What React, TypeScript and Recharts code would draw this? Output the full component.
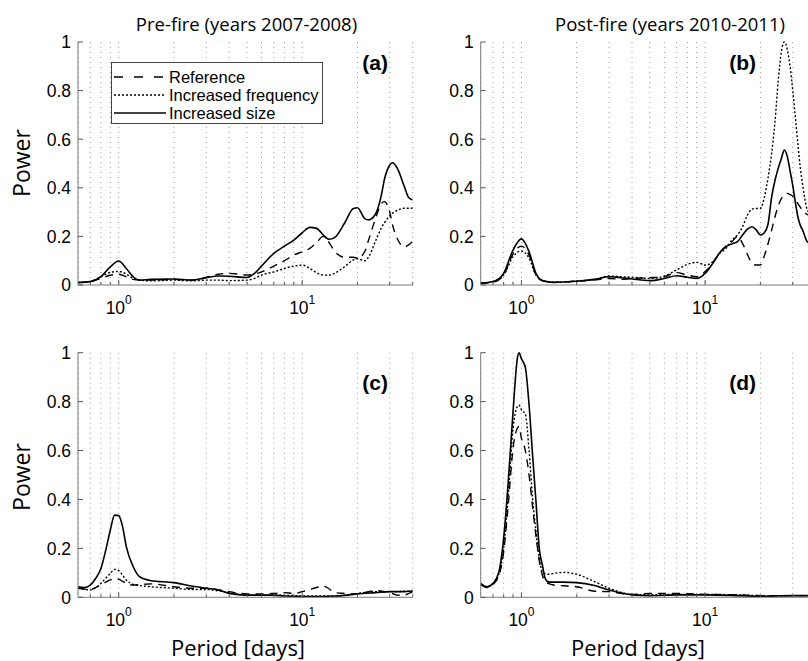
import React from 'react';
import { LineChart, Line, XAxis, YAxis, CartesianGrid, Legend } from 'recharts';

// ---------- data ----------
const X_TICKS = [0.7, 0.8, 0.9, 1, 2, 3, 4, 5, 6, 7, 8, 9, 10, 20, 30, 40];
const X_MAJOR = [1, 10];
const Y_TICKS = [0, 0.2, 0.4, 0.6, 0.8, 1];
const Y_TICK_LABELS = ['0', '0.2', '0.4', '0.6', '0.8', '1'];
const SERIES_NAMES = ['Reference', 'Increased frequency', 'Increased size'];
const PANEL_TITLES = ['Pre-fire (years 2007-2008)', 'Post-fire (years 2010-2011)'];
const PANEL_TAGS = ['(a)', '(b)', '(c)', '(d)'];
const Y_LABEL = 'Power';
const X_LABEL = 'Period [days]';

// panel (a)
const PERIODS_A = [0.6, 0.7, 0.8, 0.9, 1.0, 1.1, 1.2, 1.3, 1.5, 2, 2.5, 3, 3.5, 4, 5, 5.5, 6, 7, 8, 9, 10, 11, 12, 13, 14, 15, 17, 19, 20, 22, 23, 25, 27, 28, 30, 31, 33, 36, 38, 40];
const REF_A = [0.01, 0.014, 0.027, 0.04, 0.044, 0.034, 0.023, 0.02, 0.02, 0.023, 0.02, 0.032, 0.044, 0.048, 0.041, 0.045, 0.054, 0.078, 0.1, 0.123, 0.137, 0.151, 0.175, 0.2, 0.175, 0.14, 0.114, 0.114, 0.11, 0.14, 0.185, 0.27, 0.335, 0.343, 0.3, 0.25, 0.19, 0.157, 0.165, 0.18];
const FREQ_A = [0.01, 0.014, 0.034, 0.052, 0.056, 0.045, 0.027, 0.02, 0.017, 0.02, 0.017, 0.02, 0.02, 0.018, 0.02, 0.027, 0.041, 0.054, 0.068, 0.078, 0.082, 0.068, 0.05, 0.041, 0.04, 0.048, 0.075, 0.103, 0.108, 0.1, 0.115, 0.178, 0.235, 0.255, 0.285, 0.295, 0.307, 0.316, 0.316, 0.316];
const SIZE_A = [0.01, 0.014, 0.034, 0.075, 0.099, 0.068, 0.034, 0.02, 0.023, 0.025, 0.02, 0.03, 0.037, 0.036, 0.031, 0.048, 0.078, 0.13, 0.16, 0.185, 0.215, 0.237, 0.233, 0.206, 0.188, 0.195, 0.254, 0.315, 0.318, 0.272, 0.268, 0.29, 0.37, 0.432, 0.494, 0.503, 0.48, 0.405, 0.36, 0.35];

// panel (b)
const PERIODS_B = [0.6, 0.7, 0.8, 0.9, 1.0, 1.1, 1.2, 1.3, 1.5, 2, 2.5, 3, 3.5, 4, 5, 6, 7, 8, 9, 10, 11, 12, 13, 14, 15, 16, 17, 18, 19, 20, 21, 22, 23, 24, 25, 26, 27, 28, 29, 30, 31, 32, 33, 34, 36, 38, 40];
const REF_B = [0.007, 0.011, 0.041, 0.128, 0.16, 0.123, 0.041, 0.018, 0.011, 0.016, 0.021, 0.027, 0.023, 0.027, 0.03, 0.034, 0.051, 0.041, 0.034, 0.055, 0.089, 0.133, 0.16, 0.178, 0.2, 0.17, 0.125, 0.09, 0.082, 0.082, 0.12, 0.17, 0.225, 0.28, 0.325, 0.355, 0.372, 0.377, 0.372, 0.366, 0.355, 0.335, 0.32, 0.305, 0.29, 0.28, 0.27];
const FREQ_B = [0.007, 0.014, 0.041, 0.117, 0.14, 0.11, 0.041, 0.018, 0.011, 0.016, 0.023, 0.037, 0.034, 0.032, 0.027, 0.037, 0.062, 0.085, 0.093, 0.082, 0.096, 0.13, 0.151, 0.185, 0.206, 0.24, 0.288, 0.312, 0.315, 0.315, 0.36, 0.44, 0.54, 0.67, 0.84, 0.96, 1.0, 0.97, 0.9, 0.8, 0.69, 0.58, 0.48, 0.41, 0.31, 0.29, 0.28];
const SIZE_B = [0.007, 0.014, 0.048, 0.144, 0.19, 0.137, 0.048, 0.018, 0.011, 0.016, 0.023, 0.034, 0.03, 0.025, 0.018, 0.027, 0.038, 0.032, 0.027, 0.048, 0.089, 0.133, 0.158, 0.169, 0.178, 0.206, 0.23, 0.24, 0.226, 0.206, 0.215, 0.25, 0.36, 0.43, 0.48, 0.52, 0.555, 0.53, 0.47, 0.41, 0.34, 0.28, 0.245, 0.225, 0.178, 0.17, 0.16];

// panel (c)
const PERIODS_C = [0.6, 0.65, 0.7, 0.75, 0.8, 0.85, 0.9, 0.95, 1.0, 1.05, 1.1, 1.2, 1.3, 1.5, 2, 2.5, 3, 3.5, 4, 5, 6, 7, 8, 9, 10, 11, 12, 13, 14, 15, 17, 20, 25, 30, 33, 35, 40];
const REF_C = [0.037, 0.034, 0.032, 0.04, 0.05, 0.062, 0.071, 0.075, 0.074, 0.065, 0.057, 0.05, 0.052, 0.055, 0.043, 0.037, 0.037, 0.03, 0.023, 0.014, 0.014, 0.016, 0.019, 0.016, 0.023, 0.032, 0.04, 0.046, 0.035, 0.019, 0.016, 0.014, 0.027, 0.019, 0.009, 0.008, 0.023];
const FREQ_C = [0.037, 0.033, 0.03, 0.04, 0.057, 0.078, 0.098, 0.114, 0.109, 0.09, 0.071, 0.053, 0.048, 0.043, 0.037, 0.032, 0.032, 0.026, 0.019, 0.009, 0.009, 0.009, 0.008, 0.007, 0.005, 0.005, 0.005, 0.005, 0.005, 0.005, 0.008, 0.016, 0.023, 0.023, 0.023, 0.024, 0.026];
const SIZE_C = [0.043, 0.04, 0.05, 0.078, 0.118, 0.193, 0.275, 0.336, 0.334, 0.289, 0.207, 0.125, 0.084, 0.068, 0.06, 0.046, 0.037, 0.03, 0.016, 0.009, 0.009, 0.009, 0.005, 0.004, 0.003, 0.003, 0.003, 0.003, 0.004, 0.005, 0.008, 0.014, 0.019, 0.023, 0.023, 0.023, 0.026];

// panel (d)
const PERIODS_D = [0.6, 0.65, 0.7, 0.75, 0.8, 0.85, 0.9, 0.95, 0.97, 1.0, 1.05, 1.1, 1.15, 1.2, 1.25, 1.3, 1.35, 1.4, 1.5, 1.7, 2, 2.5, 3, 4, 5, 7, 10, 15, 20, 30, 40];
const REF_D = [0.053, 0.04, 0.053, 0.084, 0.186, 0.391, 0.609, 0.691, 0.698, 0.65, 0.6, 0.5, 0.37, 0.25, 0.15, 0.09, 0.065, 0.057, 0.05, 0.047, 0.043, 0.025, 0.023, 0.012, 0.016, 0.016, 0.012, 0.01, 0.007, 0.007, 0.007];
const FREQ_D = [0.053, 0.043, 0.057, 0.091, 0.2, 0.432, 0.691, 0.78, 0.786, 0.766, 0.75, 0.6, 0.405, 0.268, 0.159, 0.105, 0.096, 0.094, 0.098, 0.102, 0.094, 0.064, 0.037, 0.012, 0.01, 0.012, 0.012, 0.01, 0.007, 0.007, 0.007];
const SIZE_D = [0.057, 0.043, 0.057, 0.098, 0.241, 0.486, 0.759, 0.977, 1.0, 0.975, 0.94, 0.787, 0.58, 0.39, 0.2, 0.132, 0.075, 0.063, 0.062, 0.062, 0.06, 0.048, 0.03, 0.01, 0.007, 0.01, 0.01, 0.007, 0.004, 0.007, 0.007];

const build = (p: number[], r: number[], f: number[], s: number[]) =>
  p.map((v, i) => ({ p: v, ref: r[i], freq: f[i], size: s[i] }));

const DATA_A = build(PERIODS_A, REF_A, FREQ_A, SIZE_A);
const DATA_B = build(PERIODS_B, REF_B, FREQ_B, SIZE_B);
const DATA_C = build(PERIODS_C, REF_C, FREQ_C, SIZE_C);
const DATA_D = build(PERIODS_D, REF_D, FREQ_D, SIZE_D);

// ---------- styles ----------
const AXIS_FONT = '"Liberation Sans", Arial, Helvetica, sans-serif';
const LABEL_FONT = '"Open Sans", "Noto Sans", sans-serif';
const FRAME = '#7a7a7a';
const TICK_COLOR = '#555';
const GRID = '#9a9a9a';
const DASH_REF = '8 6';
const DASH_FREQ = '2 2';
const TICK_FONT_SIZE = 17.5;

// ---------- ticks ----------
const LeftTick = (props: any) => {
  const { x, y, payload } = props;
  const idx = Y_TICKS.indexOf(payload.value);
  return (
    <g>
      <line x1={x} y1={y} x2={x + 5} y2={y} stroke={TICK_COLOR} strokeWidth={1} />
      <text x={x - 7} y={y} dy="0.36em" textAnchor="end" fontSize={TICK_FONT_SIZE} fontFamily={AXIS_FONT} fill="#000">
        {idx >= 0 ? Y_TICK_LABELS[idx] : payload.value}
      </text>
    </g>
  );
};

const RightTick = (props: any) => {
  const { x, y } = props;
  return <line x1={x} y1={y} x2={x - 5} y2={y} stroke={TICK_COLOR} strokeWidth={1} />;
};

const BottomTick = (props: any) => {
  const { x, y, payload } = props;
  const v = payload.value;
  const major = X_MAJOR.includes(v);
  const exp = Math.round(Math.log10(v));
  return (
    <g>
      <line x1={x} y1={y} x2={x} y2={y - (major ? 5 : 3)} stroke={TICK_COLOR} strokeWidth={1} />
      {major && (
        <text x={x} y={y + 29} textAnchor="middle" fontSize={TICK_FONT_SIZE} fontFamily={AXIS_FONT} fill="#000">
          <tspan>10</tspan>
          <tspan dy={-10} fontSize={12}>{exp}</tspan>
        </text>
      )}
    </g>
  );
};

const TopTick = (props: any) => {
  const { x, y, payload } = props;
  const major = X_MAJOR.includes(payload.value);
  return <line x1={x} y1={y} x2={x} y2={y + (major ? 5 : 3)} stroke={TICK_COLOR} strokeWidth={1} />;
};

// ---------- legend ----------
const LEGEND_DASH = ['9 11', '2 2', undefined];
const renderLegend = () => (
  <div
    style={{
      position: 'relative',
      width: 212,
      height: 62,
      boxSizing: 'border-box',
      border: '1px solid #444',
      background: '#fff',
    }}
  >
    {SERIES_NAMES.map((name, i) => (
      <div
        key={name}
        style={{
          position: 'absolute',
          left: 1,
          top: 4.7 + i * 18.3,
          height: 18,
          display: 'flex',
          alignItems: 'center',
          whiteSpace: 'nowrap',
        }}
      >
        <svg width={54} height={18} style={{ display: 'block' }}>
          <line x1={1} y1={9} x2={53} y2={9} stroke="#000" strokeWidth={1.3} strokeDasharray={LEGEND_DASH[i]} />
        </svg>
        <span style={{ fontFamily: AXIS_FONT, fontSize: 16.5, color: '#000', marginLeft: 2, lineHeight: '18px' }}>{name}</span>
      </div>
    ))}
  </div>
);

// ---------- panel ----------
type PanelProps = {
  left: number;
  top: number;
  width: number;
  height: number;
  marginTop: number;
  yAxisWidth: number;
  data: any[];
  legend?: boolean;
};

const Panel = ({ left, top, width, height, marginTop, yAxisWidth, data, legend }: PanelProps) => (
  <div style={{ position: 'absolute', left, top }}>
    <LineChart width={width} height={height} data={data} margin={{ top: marginTop, right: 7.3, bottom: 0, left: 0 }}>
      <CartesianGrid horizontal={false} stroke={GRID} strokeDasharray="1 4" />
      <XAxis
        dataKey="p"
        type="number"
        scale="log"
        domain={[0.6, 40]}
        allowDataOverflow
        ticks={X_TICKS}
        interval={0}
        height={35}
        tickSize={0}
        tickMargin={0}
        tick={<BottomTick />}
        axisLine={{ stroke: FRAME }}
      />
      <XAxis
        xAxisId="top"
        orientation="top"
        dataKey="p"
        type="number"
        scale="log"
        domain={[0.6, 40]}
        allowDataOverflow
        ticks={X_TICKS}
        interval={0}
        height={0}
        tickSize={0}
        tickMargin={0}
        tick={<TopTick />}
        axisLine={{ stroke: FRAME }}
      />
      <YAxis
        type="number"
        domain={[0, 1]}
        ticks={Y_TICKS}
        interval={0}
        width={yAxisWidth}
        tickSize={0}
        tickMargin={0}
        tick={<LeftTick />}
        axisLine={{ stroke: FRAME }}
      />
      <YAxis
        yAxisId="right"
        orientation="right"
        type="number"
        domain={[0, 1]}
        ticks={Y_TICKS}
        interval={0}
        width={0}
        tickSize={0}
        tickMargin={0}
        tick={<RightTick />}
        axisLine={{ stroke: FRAME }}
      />
      {legend && (
        <Legend
          layout="vertical"
          align="center"
          verticalAlign="middle"
          content={renderLegend}
          wrapperStyle={{ left: 111, top: 62, width: 212, height: 62 }}
        />
      )}
      <Line
        name={SERIES_NAMES[0]}
        dataKey="ref"
        type="monotone"
        stroke="#000"
        strokeWidth={1.4}
        strokeDasharray={DASH_REF}
        dot={false}
        isAnimationActive={false}
      />
      <Line
        name={SERIES_NAMES[1]}
        dataKey="freq"
        type="monotone"
        stroke="#000"
        strokeWidth={1.4}
        strokeDasharray={DASH_FREQ}
        dot={false}
        isAnimationActive={false}
      />
      <Line
        name={SERIES_NAMES[2]}
        dataKey="size"
        type="monotone"
        stroke="#000"
        strokeWidth={1.6}
        dot={false}
        isAnimationActive={false}
      />
    </LineChart>
  </div>
);

const centered = (x: number, y: number, extra: React.CSSProperties = {}): React.CSSProperties => ({
  position: 'absolute',
  left: x,
  top: y,
  transform: 'translate(-50%, -50%)',
  whiteSpace: 'nowrap',
  lineHeight: 1.1,
  ...extra,
});

const tagStyle = (right: number, y: number): React.CSSProperties => ({
  position: 'absolute',
  left: right,
  top: y,
  transform: 'translate(-100%, -50%)',
  fontFamily: AXIS_FONT,
  fontWeight: 'bold',
  fontSize: 21,
  color: '#000',
  whiteSpace: 'nowrap',
});

export default function App() {
  return (
    <div
      style={{
        position: 'fixed',
        left: 0,
        top: 0,
        width: 808,
        height: 661,
        overflow: 'hidden',
        background: '#fff',
      }}
    >
      <Panel left={0} top={0} width={420} height={320} marginTop={42} yAxisWidth={78} data={DATA_A} legend />
      <Panel left={400} top={0} width={423} height={320} marginTop={42} yAxisWidth={80.7} data={DATA_B} />
      <Panel left={0} top={320} width={420} height={312.3} marginTop={32.7} yAxisWidth={78} data={DATA_C} />
      <Panel left={400} top={320} width={423} height={312.3} marginTop={32.7} yAxisWidth={80.7} data={DATA_D} />

      <div style={centered(246.5, 24, { fontFamily: LABEL_FONT, fontSize: 18.5 })}>{PANEL_TITLES[0]}</div>
      <div style={centered(670, 24, { fontFamily: LABEL_FONT, fontSize: 18.5 })}>{PANEL_TITLES[1]}</div>

      <div style={centered(22, 163, { fontFamily: LABEL_FONT, fontSize: 23, transform: 'translate(-50%, -50%) rotate(-90deg)' })}>{Y_LABEL}</div>
      <div style={centered(22, 477, { fontFamily: LABEL_FONT, fontSize: 23, transform: 'translate(-50%, -50%) rotate(-90deg)' })}>{Y_LABEL}</div>

      <div style={centered(238, 647, { fontFamily: LABEL_FONT, fontSize: 22 })}>{X_LABEL}</div>
      <div style={centered(638, 647, { fontFamily: LABEL_FONT, fontSize: 22 })}>{X_LABEL}</div>

      <div style={tagStyle(388, 63)}>{PANEL_TAGS[0]}</div>
      <div style={tagStyle(756, 63)}>{PANEL_TAGS[1]}</div>
      <div style={tagStyle(388, 383)}>{PANEL_TAGS[2]}</div>
      <div style={tagStyle(756, 383)}>{PANEL_TAGS[3]}</div>
    </div>
  );
}
